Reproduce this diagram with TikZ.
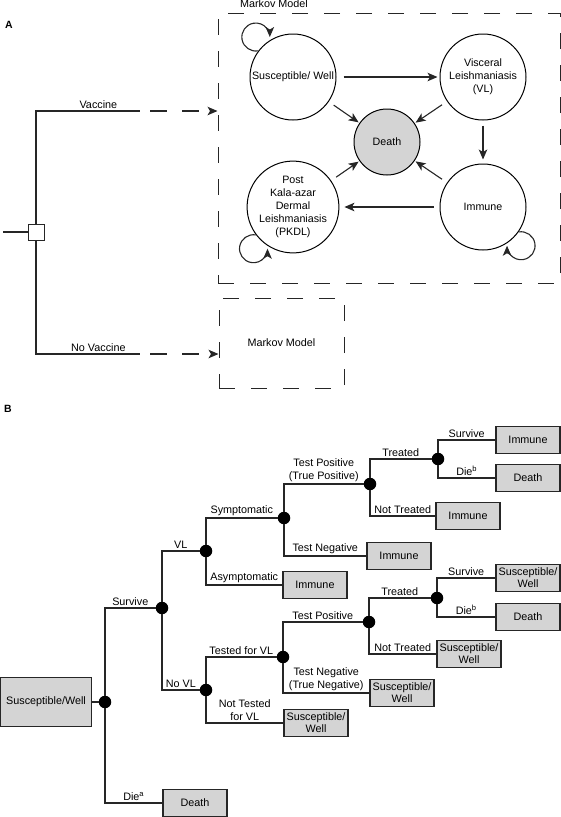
\documentclass[tikz,border=0pt]{standalone}
\usepackage{fontspec}
\setmainfont{Liberation Sans}
\usetikzlibrary{arrows.meta}
\definecolor{lg}{gray}{0.83}
\begin{document}
\begin{tikzpicture}[x=1pt,y=1pt,
  ln/.style={line width=1.1pt, draw=black!85},
  arr/.style={ln, -{Stealth[length=10pt,width=8.5pt,inset=2.5pt]}},
  st/.style={circle, draw, line width=1pt, minimum size=86pt, inner sep=0pt, align=center, font=\fontsize{10.7}{13.2}\selectfont},
  dbox/.style={draw=black!85, line width=1pt, dash pattern=on 16pt off 16pt, inner sep=0pt, font=\fontsize{10.8}{12}\selectfont},
  chance/.style={circle, fill=black, minimum size=12.5pt, inner sep=0pt},
  term/.style={rectangle, draw=black!85, line width=1.1pt, fill=lg, minimum width=64pt, minimum height=27pt, inner sep=1pt, align=center, font=\fontsize{10.8}{11.8}\selectfont},
  lab/.style={above, inner sep=1.5pt, font=\fontsize{10.8}{13}\selectfont, align=center},
  panel/.style={font=\fontsize{10.5}{12}\selectfont\bfseries}]
\useasboundingbox (0,0) rectangle (561,-817);

% ---------- Panel A ----------
\node[panel] (labA) at (9,-25) {A};
\node[dbox, minimum width=342pt, minimum height=270pt] (mm) at (389,-148) {};
\node[anchor=base, font=\fontsize{10.8}{12}\selectfont] (mmlab) at (274,-7) {Markov Model};

\node[st] (sus) at (293,-77) {Susceptible/ Well};
\node[st] (vl) at (483,-77) {Visceral\\Leishmaniasis\\(VL)};
\node[st, fill=lg, minimum size=66pt] (death) at (387,-142) {Death};
\node[st] (pkdl) at (293,-207) {Post\\Kala-azar\\Dermal\\Leishmaniasis\\(PKDL)};
\node[st] (imm) at (483,-207) {Immune};

\draw[arr, shorten <=7pt, shorten >=2pt] (sus) -- (vl);
\draw[arr, shorten <=5pt, shorten >=4pt] (vl) -- (imm);
\draw[arr, shorten <=6pt, shorten >=5pt] (imm) -- (pkdl);
\draw[arr, shorten <=6pt, shorten >=1pt] (sus) -- (death);
\draw[arr, shorten <=6pt, shorten >=1pt] (vl) -- (death);
\draw[arr, shorten <=6pt, shorten >=1pt] (pkdl) -- (death);
\draw[arr, shorten <=6pt, shorten >=1pt] (imm) -- (death);

\draw[arr] (sus.143) arc[start angle=280, end angle=0, radius=14];
\draw[arr] (pkdl.217) arc[start angle=80, end angle=360, radius=14];
\draw[arr] (imm.325) arc[start angle=100, end angle=-180, radius=14];

\node[dbox, minimum width=125pt, minimum height=90pt] (mm2) at (281.5,-343) {Markov Model};

\node[draw=black!85, fill=white, minimum size=16pt, inner sep=0pt, line width=1pt] (dec) at (36,-232) {};
\coordinate (in0) at (3,-232);
\coordinate (vac) at (140,-111);
\coordinate (nvac) at (140,-354);
\draw[ln] (in0) -- (dec);
\draw[ln] (dec) |- node[lab, pos=0.8]{Vaccine} (vac);
\draw[ln] (dec) |- node[lab, pos=0.8]{No Vaccine} (nvac);
\draw[arr, dash pattern=on 16.5pt off 15.5pt, dash phase=22pt] (vac) -- (vac -| mm.west);
\draw[arr, dash pattern=on 16.5pt off 15.5pt, dash phase=22pt] (nvac) -- (nvac -| mm2.west);

% ---------- Panel B ----------
\node[panel] (labB) at (8,-409) {B};
\node[term, minimum width=91pt, minimum height=49pt] (root) at (46,-702) {Susceptible/Well};
\node[chance] (n0) at (105,-702) {};
\node[chance] (n1) at (162,-608) {};
\node[term] (deathA) at (195,-803) {Death};
\node[chance] (n2) at (206,-551) {};
\node[chance] (n3) at (206,-690) {};
\node[chance] (n4) at (284,-518) {};
\node[term] (immA) at (315,-585) {Immune};
\node[chance] (n5) at (370,-484) {};
\node[term] (immTN) at (399,-556) {Immune};
\node[chance] (n6) at (438,-459) {};
\node[term] (immNT) at (468,-516) {Immune};
\node[term] (immS) at (528,-440) {Immune};
\node[term] (deathB1) at (528,-478) {Death};
\node[chance] (n7) at (283,-657) {};
\node[term] (swNT) at (316,-723) {Susceptible/\\Well};
\node[chance] (n8) at (369,-622) {};
\node[term] (swTN) at (402,-693) {Susceptible/\\Well};
\node[chance] (n9) at (437,-598) {};
\node[term] (swNT2) at (469,-654) {Susceptible/\\Well};
\node[term] (swS) at (528,-578) {Susceptible/\\Well};
\node[term] (deathB2) at (528,-617) {Death};

\draw[ln] (root) -- (n0);
\draw[ln] (n0) |- node[lab,pos=.75]{Survive} (n1);
\draw[ln] (n0) |- node[lab,pos=.75]{Die\textsuperscript{a}} (deathA);
\draw[ln] (n1) |- node[lab,pos=.75]{VL} (n2);
\draw[ln] (n1) |- node[lab,pos=.75]{No VL} (n3);
\draw[ln] (n2) |- node[lab,pos=.75]{Symptomatic} (n4);
\draw[ln] (n2) |- node[lab,pos=.75]{Asymptomatic} (immA);
\draw[ln] (n4) |- node[lab,pos=.75]{Test Positive\\(True Positive)} (n5);
\draw[ln] (n4) |- node[lab,pos=.75]{Test Negative} (immTN);
\draw[ln] (n5) |- node[lab,pos=.75]{Treated} (n6);
\draw[ln] (n5) |- node[lab,pos=.75]{Not Treated} (immNT);
\draw[ln] (n6) |- node[lab,pos=.75]{Survive} (immS);
\draw[ln] (n6) |- node[lab,pos=.75]{Die\textsuperscript{b}} (deathB1);
\draw[ln] (n3) |- node[lab,pos=.75]{Tested for VL} (n7);
\draw[ln] (n3) |- node[lab,pos=.75]{Not Tested\\for VL} (swNT);
\draw[ln] (n7) |- node[lab,pos=.75]{Test Positive} (n8);
\draw[ln] (n7) |- node[lab,pos=.75]{Test Negative\\(True Negative)} (swTN);
\draw[ln] (n8) |- node[lab,pos=.75]{Treated} (n9);
\draw[ln] (n8) |- node[lab,pos=.75]{Not Treated} (swNT2);
\draw[ln] (n9) |- node[lab,pos=.75]{Survive} (swS);
\draw[ln] (n9) |- node[lab,pos=.75]{Die\textsuperscript{b}} (deathB2);
\end{tikzpicture}
\end{document}
